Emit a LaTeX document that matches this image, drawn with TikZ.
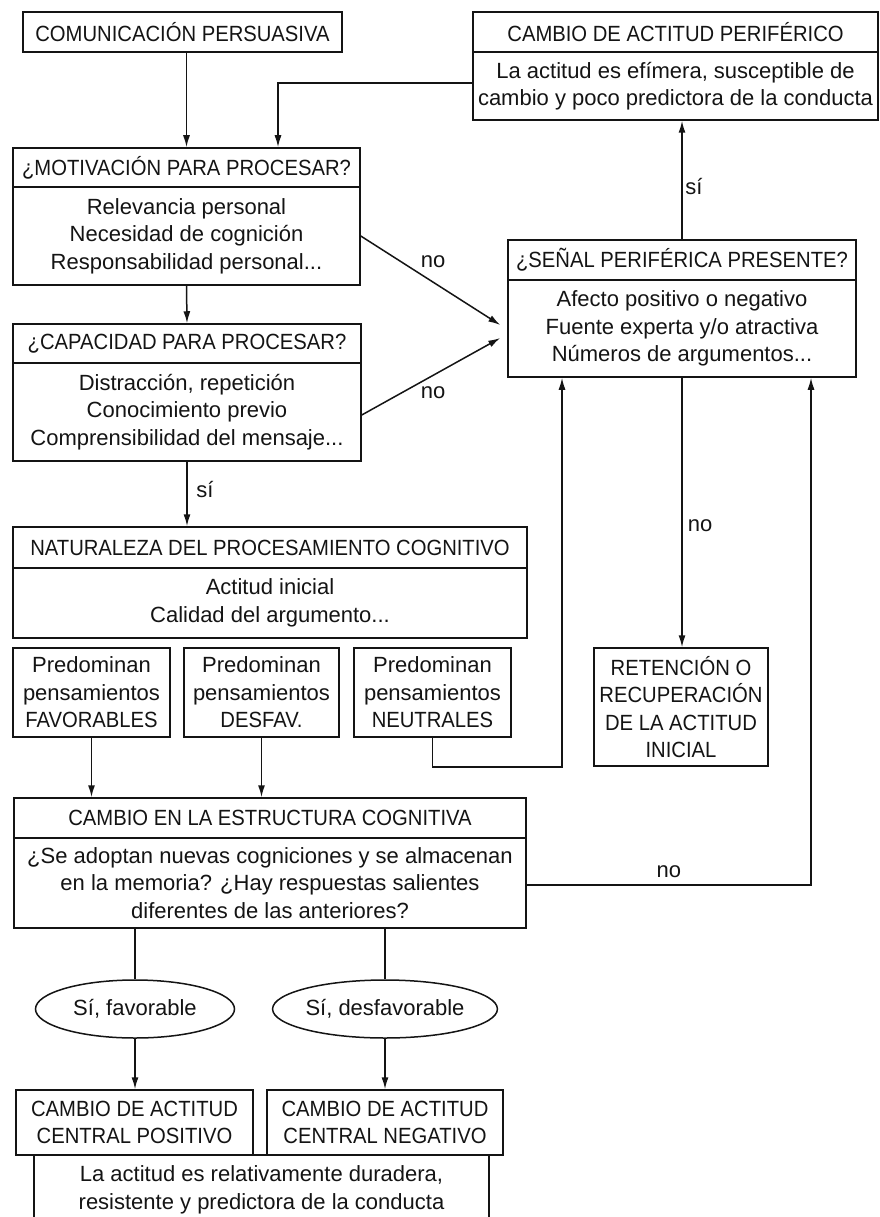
\documentclass[tikz,border=0pt]{standalone}
\usepackage{fontspec}
\setmainfont{Liberation Sans}
\newfontfamily\capsf[FakeStretch=0.92]{Liberation Sans}
\usetikzlibrary{arrows.meta,shapes.geometric}
\newcommand\fs{\fontsize{22pt}{27.5pt}\selectfont}
\newcommand\C[1]{{\capsf #1}}
\begin{document}
\begin{tikzpicture}[x=1pt,y=-1pt,
  bx/.style={draw=black!92, line width=1.5pt, rectangle, inner sep=0pt, align=center, font=\fs, text=black!92},
  ov/.style={draw=black!92, line width=1.5pt, ellipse, inner sep=0pt, align=center, font=\fs, text=black!92, minimum width=199pt, minimum height=58pt},
  arr/.style={draw=black!92, line width=1.5pt, -{Latex[length=12pt,width=7pt]}},
  ln/.style={draw=black!92, line width=1.5pt},
  lab/.style={font=\fs, text=black!92, inner sep=0pt}]
\useasboundingbox (0,0) rectangle (879,1217);
\fill[white] (0,0) rectangle (879,1217);
\clip (0,0) rectangle (879,1217);

% top row
\node[bx, minimum width=319, minimum height=40] (com) at (182.5,32) {\C{COMUNICACIÓN PERSUASIVA}};
\node[bx, minimum width=405, minimum height=40] (perH) at (675.5,32) {\C{CAMBIO DE ACTITUD PERIFÉRICO}};
\node[bx, minimum width=405, minimum height=68] (perB) at (675.5,86) {La actitud es efímera, susceptible de\\cambio y poco predictora de la conducta};

% motivation
\node[bx, minimum width=347, minimum height=39] (motH) at (186.5,167.5) {\C{¿MOTIVACIÓN PARA PROCESAR?}};
\node[bx, minimum width=347, minimum height=98] (motB) at (186.5,236) {Relevancia personal\\Necesidad de cognición\\Responsabilidad personal...};

% capacity
\node[bx, minimum width=348, minimum height=39] (capH) at (187,343.5) {\C{¿CAPACIDAD PARA PROCESAR?}};
\node[bx, minimum width=348, minimum height=98] (capB) at (187,412) {Distracción, repetición\\Conocimiento previo\\Comprensibilidad del mensaje...};

% peripheral cue
\node[bx, minimum width=348, minimum height=40] (senH) at (682,260) {\C{¿SEÑAL PERIFÉRICA PRESENTE?}};
\node[bx, minimum width=348, minimum height=97] (senB) at (682,328.5) {Afecto positivo o negativo\\Fuente experta y/o atractiva\\Números de argumentos...};

% nature of processing
\node[bx, minimum width=514, minimum height=41] (natH) at (270,547.5) {\C{NATURALEZA DEL PROCESAMIENTO COGNITIVO}};
\node[bx, minimum width=514, minimum height=70] (natB) at (270,603) {Actitud inicial\\Calidad del argumento...};

% three thought boxes
\node[bx, minimum width=157, minimum height=89] (pA) at (91.5,692.5) {Predominan\\pensamientos\\\C{FAVORABLES}};
\node[bx, minimum width=155, minimum height=89] (pB) at (261.5,692.5) {Predominan\\pensamientos\\\C{DESFAV.}};
\node[bx, minimum width=157, minimum height=89] (pC) at (432.5,692.5) {Predominan\\pensamientos\\\C{NEUTRALES}};

% retention
\node[bx, minimum width=174, minimum height=118] (ret) at (681,707) {\C{RETENCIÓN O}\\\C{RECUPERACIÓN}\\\C{DE LA ACTITUD}\\\C{INICIAL}};

% cognitive structure
\node[bx, minimum width=512, minimum height=40] (estH) at (270,818) {\C{CAMBIO EN LA ESTRUCTURA COGNITIVA}};
\node[bx, minimum width=512, minimum height=90] (estB) at (270,883) {¿Se adoptan nuevas cogniciones y se almacenan\\en la memoria? ¿Hay respuestas salientes\\diferentes de las anteriores?};

% ellipses
\node[ov] (e1) at (135,1009) {Sí, favorable};
\node[ov] (e2) at (385,1009) {Sí, desfavorable};

% central change
\node[bx, minimum width=237, minimum height=65] (pos) at (134.5,1122.5) {\C{CAMBIO DE ACTITUD}\\\C{CENTRAL POSITIVO}};
\node[bx, minimum width=236, minimum height=65] (neg) at (385,1122.5) {\C{CAMBIO DE ACTITUD}\\\C{CENTRAL NEGATIVO}};
\node[bx, minimum width=455, minimum height=70] (fin) at (261.5,1190) {La actitud es relativamente duradera,\\resistente y predictora de la conducta};

% connectors
\draw[arr] (com.south -| motH.north) -- (motH.north);
\draw[arr] ([yshift=3pt]perB.west) -| ([xshift=91.5pt]motH.north);
\draw[arr] (motB.east) -- node[lab, pos=.5, xshift=2.5pt, yshift=18.5pt] {no} ([xshift=-7pt,yshift=3.5pt]senB.west);
\draw[arr] ([yshift=-3pt]capB.east) -- node[lab, pos=.5, xshift=2pt, yshift=-16.5pt] {no} ([xshift=-7pt,yshift=-9.5pt]senB.west);
\draw[arr] (motB.south) -- (capH.north);
\draw[arr] (capB.south) -- node[lab, pos=.5, xshift=18pt, yshift=4pt] {sí} (capB.south |- natH.north);
\draw[arr] (senH.north) -- node[lab, pos=.5, xshift=12pt, yshift=-7pt] {sí} (senH.north |- perB.south);
\draw[arr] (senB.south) -- node[lab, pos=.5, xshift=18pt, yshift=-13.5pt] {no} (senB.south |- ret.north);
\draw[arr] (pC.south) -- ++(0,29) -| ([xshift=-120pt]senB.south);
\draw[arr] ([yshift=-2pt]estB.east) -| node[lab, pos=.25, yshift=13pt] {no} ([xshift=129pt]senB.south);
\draw[arr] (pA.south) -- (pA.south |- estH.north);
\draw[arr] (pB.south) -- (pB.south |- estH.north);
\draw[ln] (estB.south -| e1.north) -- (e1.north);
\draw[ln] (estB.south -| e2.north) -- (e2.north);
\draw[arr] (e1.south) -- (e1.south |- pos.north);
\draw[arr] (e2.south) -- (e2.south |- neg.north);
\end{tikzpicture}
\end{document}
